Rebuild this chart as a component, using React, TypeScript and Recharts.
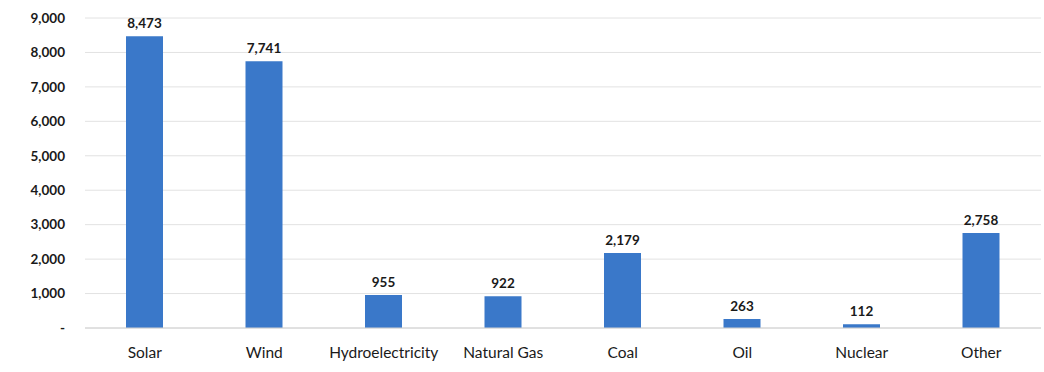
import { BarChart, Bar, XAxis, YAxis, CartesianGrid, LabelList } from "recharts";

const sources = ["Solar", "Wind", "Hydroelectricity", "Natural Gas", "Coal", "Oil", "Nuclear", "Other"];
const capacity = [8473, 7741, 955, 922, 2179, 263, 112, 2758];
const yTicks = [0, 1000, 2000, 3000, 4000, 5000, 6000, 7000, 8000, 9000];

const data = sources.map((source, i) => ({ source, value: capacity[i] }));

const fmt = (v: number) => (v === 0 ? "-" : v.toLocaleString("en-US"));

export default function App() {
  return (
    <div style={{ position: "fixed", top: 0, left: 0, background: "#fff", fontFamily: "Lato, 'Open Sans', sans-serif" }}>
      <BarChart
        width={1044}
        height={372}
        data={data}
        margin={{ top: 18, right: 3, left: 0, bottom: 0 }}
      >
        <CartesianGrid vertical={false} stroke="#e2e2e2" />
        <XAxis
          dataKey="source"
          axisLine={{ stroke: "#d0d0d0" }}
          tickLine={false}
          tickSize={0}
          tickMargin={19}
          height={44}
          tick={{ fontSize: 15.5, fill: "#1a1a1a" }}
        />
        <YAxis
          domain={[0, 9000]}
          ticks={yTicks}
          tickFormatter={fmt}
          axisLine={false}
          tickLine={false}
          tickSize={0}
          tickMargin={20}
          width={85}
          tick={{ fontSize: 13.5, fontWeight: 700, fill: "#1a1a1a" }}
        />
        <Bar dataKey="value" fill="#3a78c9" barSize={37} isAnimationActive={false}>
          <LabelList
            dataKey="value"
            position="top"
            offset={8}
            formatter={(v: any) => Number(v).toLocaleString("en-US")}
            style={{ fontSize: 13.5, fontWeight: 700, fill: "#1a1a1a" }}
          />
        </Bar>
      </BarChart>
    </div>
  );
}
